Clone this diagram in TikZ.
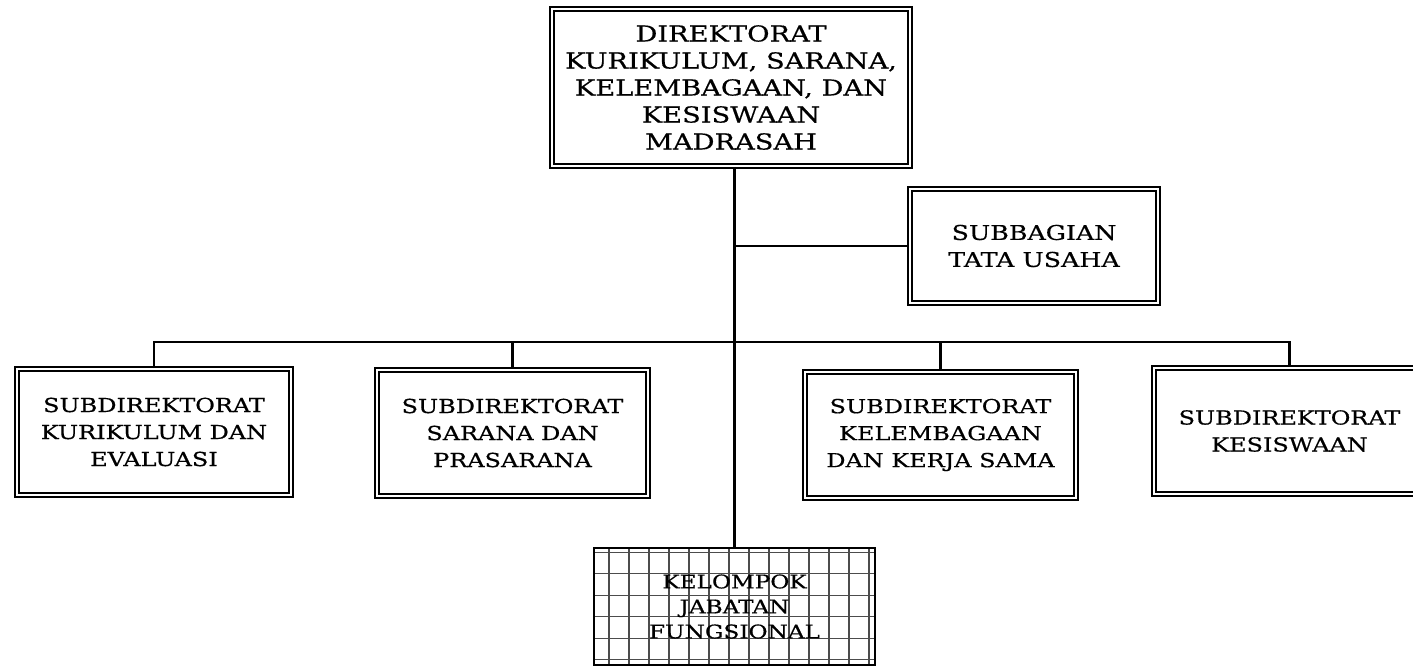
\documentclass[tikz,border=0pt]{standalone}
\usepackage{fontspec}
\setmainfont{DejaVu Serif}[FakeStretch=1.24,FakeBold=0.6]
\usepackage{tikz}

\tikzset{
  unitbox/.style={draw, double, double distance=1.6pt, line width=1.9pt,
    align=center, font=\fontsize{19.3}{27}\selectfont, inner sep=0pt},
  gridbox/.style={draw, line width=2pt, align=center,
    font=\fontsize{18.7}{25}\selectfont, inner sep=0pt,
    path picture={\draw[line width=1.3pt, black!70, xstep=20pt, ystep=21.5pt]
      (path picture bounding box.south west) grid (path picture bounding box.north east);}},
  link/.style={line width=2.6pt}
}

\begin{document}
\begin{tikzpicture}[x=1pt,y=1pt,yscale=-1,xscale=1]
        \useasboundingbox (0,0) rectangle (1413,667);

        % Direktorat
        \node [unitbox, font=\fontsize{22}{27}\selectfont, minimum width=358, minimum height=157] (dir) at (731,87.5)
          {DIREKTORAT\\KURIKULUM, SARANA,\\KELEMBAGAAN, DAN\\KESISWAAN\\MADRASAH};
        % Subbagian
        \node [unitbox, font=\fontsize{20.4}{27}\selectfont, minimum width=248, minimum height=114] (tu) at (1034,246)
          {SUBBAGIAN\\TATA USAHA};

        % Subdirektorat
        \node [unitbox, minimum width=274, minimum height=126] (kur) at (154,432)
          {SUBDIREKTORAT\\KURIKULUM DAN\\EVALUASI};
        \node [unitbox, minimum width=271, minimum height=126] (sar) at (512.5,433)
          {SUBDIREKTORAT\\SARANA DAN\\PRASARANA};
        \node [unitbox, minimum width=271, minimum height=126] (kel) at (940.5,435)
          {SUBDIREKTORAT\\KELEMBAGAAN\\DAN KERJA SAMA};
        \node [unitbox, minimum width=271, minimum height=126] (sis) at (1289.5,431)
          {SUBDIREKTORAT\\KESISWAAN};

        % Kelompok jabatan fungsional
        \node [gridbox, minimum width=281, minimum height=117] (jf) at (734.5,606.5)
          {KELOMPOK\\JABATAN\\FUNGSIONAL};

        % Garis
        \coordinate (bus) at (733,342);
        \coordinate (cab) at (jf.north |- tu.west);
        \draw [link] (dir.south -| jf.north) -- (jf.north);
        \draw [link] (cab) -- (tu.west);
        \draw [link] (kur.north) -- (kur.north |- bus) -- (sis.north |- bus) -- (sis.north);
        \draw [link] (sar.north |- bus) -- (sar.north);
        \draw [link] (kel.north |- bus) -- (kel.north);

    \end{tikzpicture}
\end{document}
